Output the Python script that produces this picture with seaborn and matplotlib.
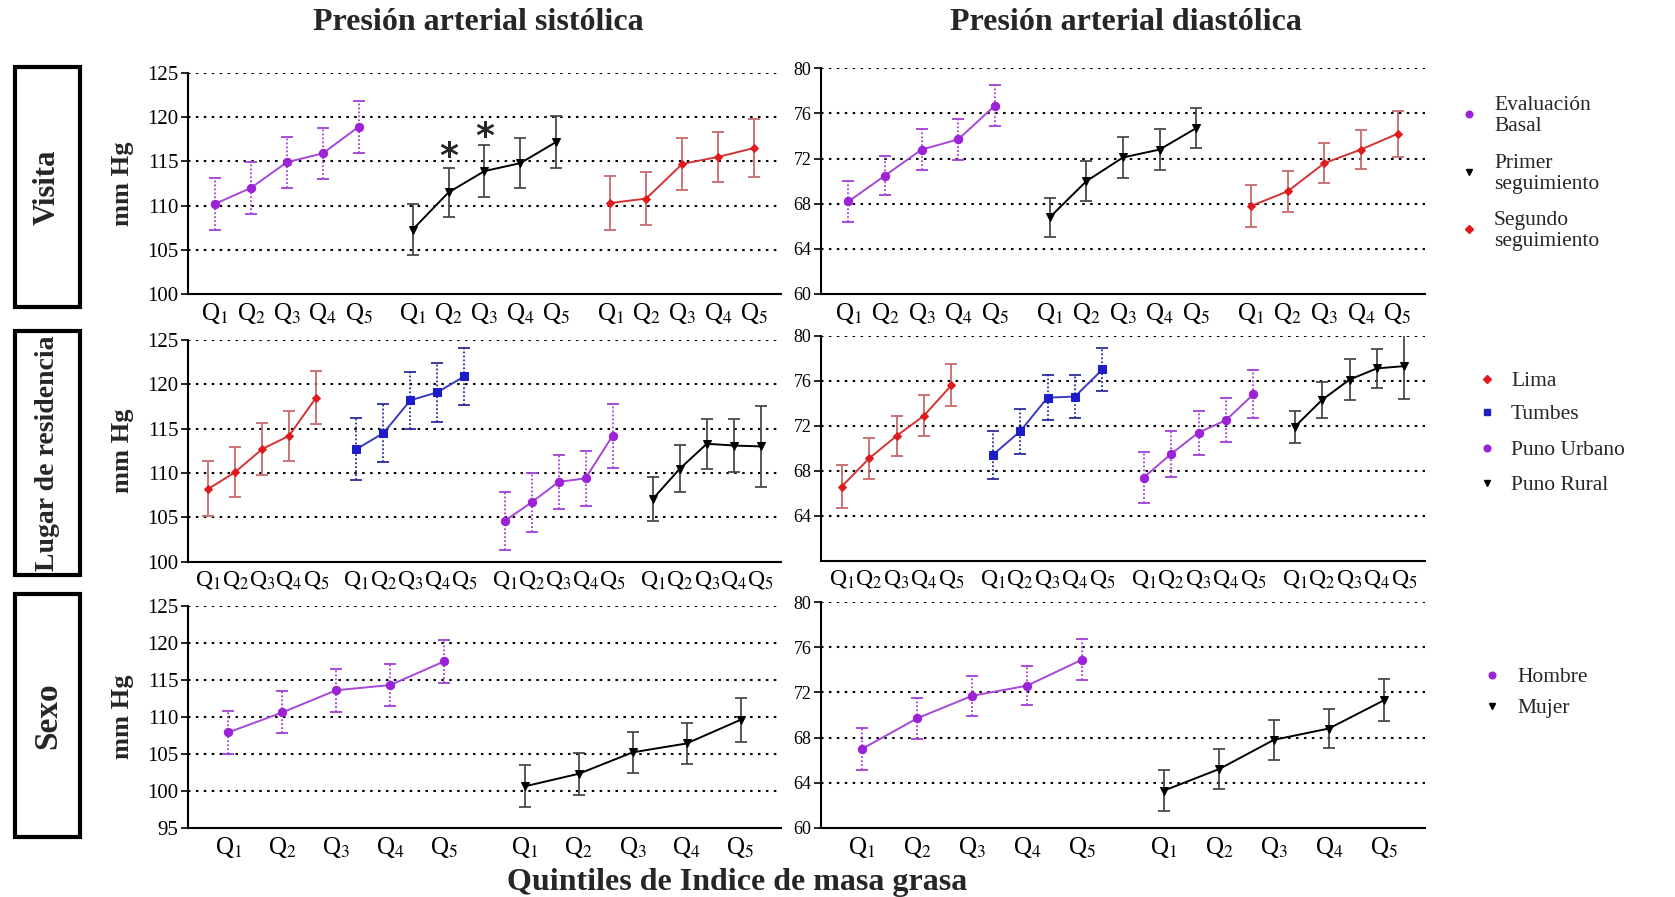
import numpy as np
import pandas as pd
import matplotlib
matplotlib.use("Agg")
import matplotlib.pyplot as plt
import seaborn as sns
from matplotlib.lines import Line2D
from matplotlib.patches import Rectangle

# ---------------- data ----------------
quintiles = ["Q$_1$", "Q$_2$", "Q$_3$", "Q$_4$", "Q$_5$"]

# Row 1: Visita
sys_basal = [110.2, 112.0, 114.9, 115.9, 118.9]
sys_basal_err = [2.9, 2.9, 2.9, 2.9, 2.95]
sys_primer = [107.3, 111.5, 113.9, 114.8, 117.2]
sys_primer_err = [2.85, 2.8, 2.9, 2.85, 2.9]
sys_segundo = [110.3, 110.8, 114.7, 115.5, 116.5]
sys_segundo_err = [3.05, 2.95, 2.9, 2.85, 3.3]

dia_basal = [68.2, 70.5, 72.8, 73.7, 76.7]
dia_basal_err = [1.8, 1.75, 1.8, 1.8, 1.8]
dia_primer = [66.8, 70.0, 72.1, 72.8, 74.7]
dia_primer_err = [1.75, 1.75, 1.8, 1.8, 1.8]
dia_segundo = [67.8, 69.1, 71.6, 72.8, 74.2]
dia_segundo_err = [1.85, 1.8, 1.8, 1.75, 2.05]

# Row 2: Lugar de residencia
sys_lima = [108.2, 110.1, 112.7, 114.2, 118.5]
sys_lima_err = [3.1, 2.85, 2.9, 2.85, 3.0]
sys_tumbes = [112.7, 114.5, 118.2, 119.1, 120.9]
sys_tumbes_err = [3.5, 3.25, 3.2, 3.3, 3.25]
sys_urbano = [104.6, 106.7, 109.0, 109.4, 114.2]
sys_urbano_err = [3.3, 3.3, 3.05, 3.1, 3.6]
sys_rural = [107.1, 110.5, 113.3, 113.1, 113.0]
sys_rural_err = [2.5, 2.65, 2.8, 3.0, 4.6]

dia_lima = [66.6, 69.1, 71.1, 72.9, 75.6]
dia_lima_err = [1.9, 1.85, 1.8, 1.8, 1.85]
dia_tumbes = [69.4, 71.5, 74.5, 74.6, 77.0]
dia_tumbes_err = [2.1, 2.0, 2.0, 1.9, 1.95]
dia_urbano = [67.4, 69.5, 71.4, 72.5, 74.8]
dia_urbano_err = [2.25, 2.05, 1.95, 1.95, 2.15]
dia_rural = [71.9, 74.3, 76.1, 77.1, 77.3]
dia_rural_err = [1.45, 1.6, 1.8, 1.75, 2.9]

# Row 3: Sexo
sys_hombre = [107.9, 110.6, 113.6, 114.3, 117.5]
sys_hombre_err = [2.9, 2.85, 2.9, 2.85, 2.95]
sys_mujer = [100.6, 102.3, 105.2, 106.4, 109.6]
sys_mujer_err = [2.85, 2.85, 2.8, 2.8, 2.95]

dia_hombre = [67.0, 69.7, 71.7, 72.6, 74.9]
dia_hombre_err = [1.85, 1.8, 1.75, 1.75, 1.8]
dia_mujer = [63.3, 65.2, 67.8, 68.8, 71.3]
dia_mujer_err = [1.8, 1.75, 1.75, 1.75, 1.85]

legend_visita = ["Evaluación\nBasal", "Primer\nseguimiento", "Segundo\nseguimiento"]
legend_lugar = ["Lima", "Tumbes", "Puno Urbano", "Puno Rural"]
legend_sexo = ["Hombre", "Mujer"]
row_labels = ["Visita", "Lugar de residencia", "Sexo"]
titles = ["Presión arterial sistólica", "Presión arterial diastólica"]
xlabel_text = "Quintiles de Indice de masa grasa"
sig_marks = [(1, 1, 116.3), (1, 2, 118.5)]  # (group, quintile index, y)

# ---------------- styles ----------------
PURPLE = "#9b22d6"
RED = "#e01a1e"
BLUE = "#1c1cc8"
BLACK = "#000000"
styles = {
    "purple": dict(color=PURPLE, line="#a548d6", marker="o", ms=6, ecol="#a33fd6", els=(0, (1, 1.2))),
    "black": dict(color=BLACK, line=BLACK, marker="v", ms=6, ecol="#4a4a4a", els="-"),
    "red": dict(color=RED, line="#d23434", marker="D", ms=4.5, ecol="#c86a6a", els="-"),
    "blue": dict(color=BLUE, line="#3a3ac0", marker="s", ms=5.5, ecol="#2c2ca0", els=(0, (1, 1.2))),
}

sns.set_theme(style="white")
plt.rcParams["font.family"] = ["Liberation Serif", "DejaVu Serif"]
plt.rcParams["mathtext.fontset"] = "stix"

W, H = 1675, 897
fig = plt.figure(figsize=(W / 100, H / 100), dpi=100)


def add_ax(x0, x1, y0, y1):
    return fig.add_axes([x0 / W, 1 - y1 / H, (x1 - x0) / W, (y1 - y0) / H])


def draw_panel(ax, series, ylim, yticks, ytick_fs, xtick_fs=18, sigs=None):
    ngroups = len(series)
    xt = []
    for g, (vals, errs, sty) in enumerate(series):
        st = styles[sty]
        x = g * 5.5 + np.arange(5)
        xt.extend(x)
        df = pd.DataFrame({"x": x, "y": vals})
        eb = ax.errorbar(x, vals, yerr=errs, fmt="none", ecolor=st["ecol"],
                         elinewidth=1.3, capsize=4, capthick=1.3, zorder=3)
        eb[2][0].set_linestyle(st["els"])
        sns.lineplot(data=df, x="x", y="y", ax=ax, color=st["line"], linewidth=1.4,
                     marker=st["marker"], markersize=st["ms"], markeredgecolor=st["color"],
                     markerfacecolor=st["color"], legend=False, zorder=4)
    if sigs:
        for g, q, y in sigs:
            ax.text(g * 5.5 + q, y - 0.8, "*", fontsize=26, fontweight="bold", ha="center",
                    va="center", family="DejaVu Sans")
    ax.set_xlim(-0.75, ngroups * 5.5 - 0.75)
    ax.set_ylim(*ylim)
    ax.set_yticks(yticks)
    ax.set_xticks(xt)
    ax.set_xticklabels(quintiles * ngroups)
    for y in yticks:
        if y > ylim[0]:
            ax.axhline(y, color="black", linestyle=(0, (1.2, 2.6)), linewidth=1.5, zorder=1)
    sns.despine(ax=ax)
    for s in ["left", "bottom"]:
        ax.spines[s].set_color("black")
        ax.spines[s].set_linewidth(1.5)
    ax.tick_params(axis="y", direction="out", length=5, width=1.2, left=True,
                   labelsize=ytick_fs, pad=2, colors="black")
    ax.tick_params(axis="x", length=0, labelsize=xtick_fs, pad=5, colors="black")
    ax.set_xlabel("")
    ax.set_ylabel("")
    ax.grid(False)


LX0, LX1, RX0, RX1 = 188, 781, 821, 1425

# Row 1
ax = add_ax(LX0, LX1, 72.7, 294.3)
draw_panel(ax, [(sys_basal, sys_basal_err, "purple"), (sys_primer, sys_primer_err, "black"),
                (sys_segundo, sys_segundo_err, "red")],
           (100, 125), [100, 105, 110, 115, 120, 125], 15, sigs=sig_marks)
ax = add_ax(RX0, RX1, 68.3, 294)
draw_panel(ax, [(dia_basal, dia_basal_err, "purple"), (dia_primer, dia_primer_err, "black"),
                (dia_segundo, dia_segundo_err, "red")],
           (60, 80), [60, 64, 68, 72, 76, 80], 13)

# Row 2
ax = add_ax(LX0, LX1, 340, 561.7)
draw_panel(ax, [(sys_lima, sys_lima_err, "red"), (sys_tumbes, sys_tumbes_err, "blue"),
                (sys_urbano, sys_urbano_err, "purple"), (sys_rural, sys_rural_err, "black")],
           (100, 125), [100, 105, 110, 115, 120, 125], 15, xtick_fs=17)
ax = add_ax(RX0, RX1, 335.7, 561)
draw_panel(ax, [(dia_lima, dia_lima_err, "red"), (dia_tumbes, dia_tumbes_err, "blue"),
                (dia_urbano, dia_urbano_err, "purple"), (dia_rural, dia_rural_err, "black")],
           (60, 80), [64, 68, 72, 76, 80], 13, xtick_fs=17)

# Row 3
ax = add_ax(LX0, LX1, 606, 827.7)
draw_panel(ax, [(sys_hombre, sys_hombre_err, "purple"), (sys_mujer, sys_mujer_err, "black")],
           (95, 125), [95, 100, 105, 110, 115, 120, 125], 15)
ax = add_ax(RX0, RX1, 602.3, 827.7)
draw_panel(ax, [(dia_hombre, dia_hombre_err, "purple"), (dia_mujer, dia_mujer_err, "black")],
           (60, 80), [60, 64, 68, 72, 76, 80], 13)


def ftext(x, y, s, **kw):
    fig.text(x / W, 1 - y / H, s, **kw)


def fmarker(x, y, sty):
    st = styles[sty]
    fig.add_artist(Line2D([x / W], [1 - y / H], transform=fig.transFigure, marker=st["marker"],
                          markersize=st["ms"] * 0.8, color=st["color"], linestyle="none"))


# Titles
ftext(478, 22, titles[0], fontsize=23, fontweight="bold", ha="center", va="center")
ftext(1126, 22, titles[1], fontsize=23, fontweight="bold", ha="center", va="center")

# Row labels and boxes
boxes = [(67, 307), (331, 575), (594, 837)]
row_fs = [22, 20, 24]
ycent = [183.5, 450.8, 716.9]
for (y0, y1), lab, fs, yc in zip(boxes, row_labels, row_fs, ycent):
    fig.add_artist(Rectangle((15 / W, 1 - y1 / H), 65 / W, (y1 - y0) / H, transform=fig.transFigure,
                             fill=False, linewidth=3, edgecolor="black"))
    ftext(47.5, (y0 + y1) / 2, lab, fontsize=fs, fontweight="bold", rotation=90,
          ha="center", va="center")
    ftext(123, yc, "mm Hg", fontsize=19, fontweight="bold", rotation=90, ha="center", va="center")

# Legends
leg_specs = [
    (1469, 1494, [114, 172, 229], legend_visita, ["purple", "black", "red"]),
    (1487, 1511, [379, 412, 448, 483], legend_lugar, ["red", "blue", "purple", "black"]),
    (1492, 1517, [675, 706], legend_sexo, ["purple", "black"]),
]
for mx, tx, ys, labs, stys in leg_specs:
    for y, lab, sty in zip(ys, labs, stys):
        fmarker(mx, y, sty)
        ftext(tx, y + 2, lab, fontsize=15.5, ha="left", va="center", linespacing=1.1)

# X label
ftext(737, 882, xlabel_text, fontsize=23, fontweight="bold", ha="center", va="center")

fig.savefig("out.png", dpi=100, facecolor="white")
